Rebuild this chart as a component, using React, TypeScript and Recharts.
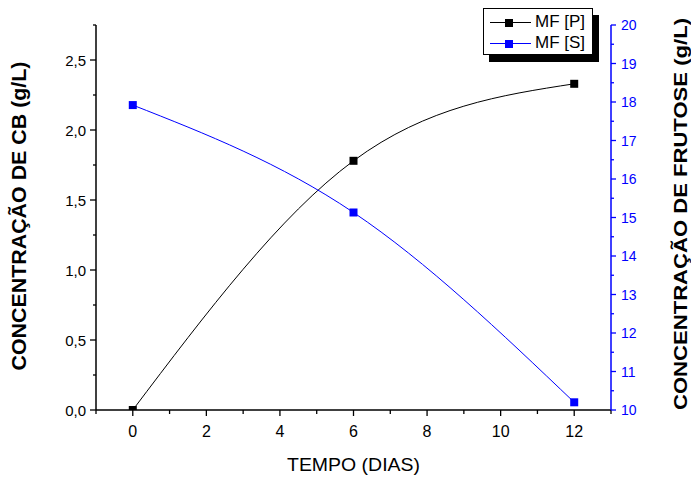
import React from 'react';
import { LineChart, Line, XAxis, YAxis } from 'recharts';

const days = [0, 6, 12];
const cbValues = [0, 1.78, 2.33];
const frutoseValues = [17.92, 15.13, 10.2];
const seriesNames = ['MF [P]', 'MF [S]'];
const seriesColors = ['#000000', '#0000ff'];

const xTicks = [-1, 0, 1, 2, 3, 4, 5, 6, 7, 8, 9, 10, 11, 12, 13];
const leftTicks = [0, 0.25, 0.5, 0.75, 1, 1.25, 1.5, 1.75, 2, 2.25, 2.5, 2.75];
const rightTicks = [10, 10.5, 11, 11.5, 12, 12.5, 13, 13.5, 14, 14.5, 15, 15.5, 16, 16.5, 17, 17.5, 18, 18.5, 19, 19.5, 20];

const xTitle = 'TEMPO (DIAS)';
const leftTitle = 'CONCENTRAÇÃO DE CB (g/L)';
const rightTitle = 'CONCENTRAÇÃO DE FRUTOSE (g/L)';

const data = days.map((d, i) => ({ day: d, cb: cbValues[i], fru: frutoseValues[i] }));

const FONT = '"Liberation Sans", Arial, sans-serif';

const XTick = (props: any) => {
  const { x, y, payload } = props;
  const v = payload.value;
  const major = Math.abs(v % 2) === 0;
  return (
    <g>
      <line x1={x} y1={y} x2={x} y2={y + (major ? 6 : 4)} stroke="#000" strokeWidth={1.3} />
      {major && (
        <text x={x} y={y + 27} textAnchor="middle" fontSize={16} fontFamily={FONT} fill="#000">
          {String(v)}
        </text>
      )}
    </g>
  );
};

const LeftTick = (props: any) => {
  const { x, y, payload } = props;
  const v = payload.value;
  const major = Math.round(v * 4) % 2 === 0;
  return (
    <g>
      <line x1={x} y1={y} x2={x - (major ? 6 : 3)} y2={y} stroke="#000" strokeWidth={1.3} />
      {major && (
        <text x={x - 10} y={y + 5.5} textAnchor="end" fontSize={15} fontFamily={FONT} fill="#000">
          {v.toFixed(1).replace('.', ',')}
        </text>
      )}
    </g>
  );
};

const RightTick = (props: any) => {
  const { x, y, payload } = props;
  const v = payload.value;
  const major = Math.round(v * 2) % 2 === 0;
  return (
    <g>
      <line x1={x} y1={y} x2={x + (major ? 5 : 3)} y2={y} stroke="#0000ff" strokeWidth={1.3} />
      {major && (
        <text x={x + 10} y={y + 5} textAnchor="start" fontSize={14} fontFamily={FONT} fill="#0000ff">
          {String(v)}
        </text>
      )}
    </g>
  );
};

const SquareDot = (props: any) => {
  const { cx, cy, fill } = props;
  if (cx == null || cy == null) return null;
  return <rect x={cx - 4} y={cy - 4} width={8} height={8} fill={fill} />;
};

// chart coordinates = page coordinates (body margin removed)
const XTitle = () => (
  <text x={353.5} y={471} textAnchor="middle" fontSize={18} fontFamily={FONT} fill="#000" textLength={133} lengthAdjust="spacingAndGlyphs">
    {xTitle}
  </text>
);

const LeftTitle = () => (
  <text
    x={0}
    y={0}
    transform="translate(26,216) rotate(-90)"
    textAnchor="middle"
    fontSize={19.5}
    fontWeight="bold"
    fontFamily={FONT}
    fill="#000"
    textLength={309}
    lengthAdjust="spacingAndGlyphs"
  >
    {leftTitle}
  </text>
);

const RightTitle = () => (
  <text
    x={0}
    y={0}
    transform="translate(687,214) rotate(-90)"
    textAnchor="middle"
    fontSize={19}
    fontWeight="bold"
    fontFamily={FONT}
    fill="#000"
    textLength={392}
    lengthAdjust="spacingAndGlyphs"
  >
    {rightTitle}
  </text>
);

const LegendBox = () => (
  <div
    style={{
      position: 'absolute',
      left: 483,
      top: 8,
      width: 108,
      height: 45,
      border: '1px solid #000',
      background: '#fff',
      boxShadow: '6px 7px 0 #000',
      fontFamily: FONT,
      fontSize: 17,
    }}
  >
    {seriesNames.map((name, i) => (
      <div key={name} style={{ position: 'absolute', left: 0, top: i === 0 ? 3 : 24, height: 20, width: 108 }}>
        <div style={{ position: 'absolute', left: 6, top: 10, width: 41, height: 1, background: seriesColors[i] }} />
        <div style={{ position: 'absolute', left: 21, top: 6.5, width: 8, height: 8, background: seriesColors[i] }} />
        <div style={{ position: 'absolute', left: 51, top: 0, lineHeight: '20px', color: '#000', whiteSpace: 'nowrap' }}>{name}</div>
      </div>
    ))}
  </div>
);

export default function App() {
  return (
    <div style={{ position: 'relative', width: 691, height: 479, overflow: 'hidden' }}>
      <style>{'html,body{margin:0;padding:0;overflow:hidden;}'}</style>
      <LineChart width={691} height={479} data={data} margin={{ top: 25, right: 30, bottom: 39, left: 36 }}>
        <XAxis
          dataKey="day"
          type="number"
          domain={[-1, 13]}
          ticks={xTicks}
          interval={0}
          tick={<XTick />}
          tickLine={false}
          tickSize={0}
          tickMargin={0}
          height={30}
          axisLine={{ stroke: '#000', strokeWidth: 1.5 }}
          label={<XTitle />}
          allowDataOverflow
        />
        <YAxis
          yAxisId="left"
          orientation="left"
          type="number"
          domain={[0, 2.75]}
          ticks={leftTicks}
          interval={0}
          tick={<LeftTick />}
          tickLine={false}
          tickSize={0}
          tickMargin={0}
          width={60}
          axisLine={{ stroke: '#000', strokeWidth: 1.5 }}
          label={<LeftTitle />}
          allowDataOverflow
        />
        <YAxis
          yAxisId="right"
          orientation="right"
          type="number"
          domain={[10, 20]}
          ticks={rightTicks}
          interval={0}
          tick={<RightTick />}
          tickLine={false}
          tickSize={0}
          tickMargin={0}
          width={50}
          axisLine={{ stroke: '#0000ff', strokeWidth: 1.5 }}
          label={<RightTitle />}
          allowDataOverflow
        />
        <Line
          yAxisId="left"
          dataKey="cb"
          name={seriesNames[0]}
          type="natural"
          stroke="#000"
          strokeWidth={1}
          dot={<SquareDot fill="#000" />}
          activeDot={false}
          isAnimationActive={false}
        />
        <Line
          yAxisId="right"
          dataKey="fru"
          name={seriesNames[1]}
          type="natural"
          stroke="#0000ff"
          strokeWidth={1}
          dot={<SquareDot fill="#0000ff" />}
          activeDot={false}
          isAnimationActive={false}
        />
      </LineChart>
      <LegendBox />
    </div>
  );
}
